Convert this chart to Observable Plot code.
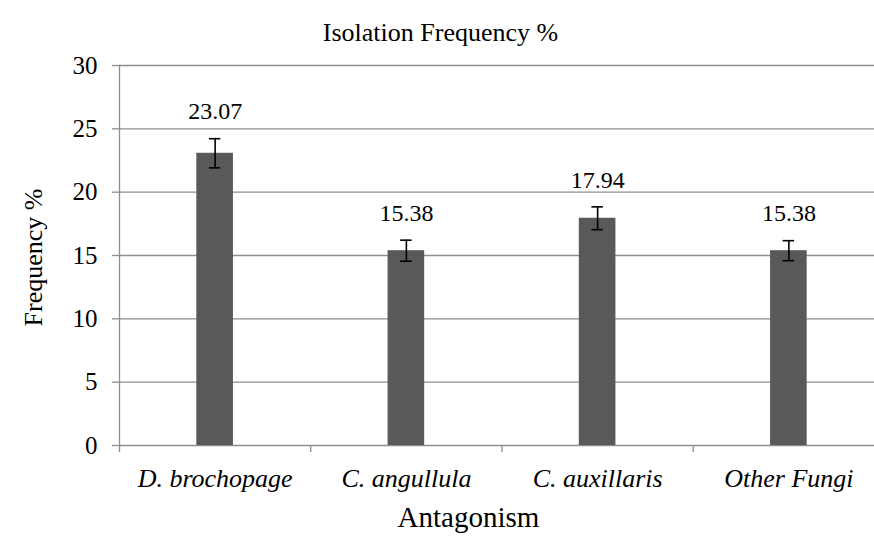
<!DOCTYPE html>
<html>
<head>
<meta charset="utf-8">
<script src="https://cdn.jsdelivr.net/npm/d3@7"></script>
<script src="https://cdn.jsdelivr.net/npm/@observablehq/plot@0.6"></script>
<style>
  html, body { margin: 0; padding: 0; background: #fff; }
  svg { display: block; }
</style>
</head>
<body>
<div id="chart"></div>
<script>
const categories = ["D. brochopage", "C. angullula", "C. auxillaris", "Other Fungi"];
const values = [23.07, 15.38, 17.94, 15.38];
const errors = [1.15, 0.83, 0.9, 0.79];
const yTicks = [0, 5, 10, 15, 20, 25, 30];
const titleText = "Isolation Frequency %";
const xTitle = "Antagonism";
const yTitle = "Frequency %";

const data = categories.map((c, i) => ({
  cat: c, i, pos: i + 0.5, value: values[i], err: errors[i],
  lo: values[i] - errors[i], hi: values[i] + errors[i]
}));
const barHalf = 0.0957;
const capHalf = 0.03;
const grid = "#8e8e8e";
const font = "Liberation Serif";

const chart = Plot.plot({
  width: 874,
  height: 546,
  marginLeft: 119,
  marginRight: -10,
  marginTop: 65,
  marginBottom: 101,
  style: { background: "#fff", overflow: "hidden" },
  x: { domain: [0, categories.length] },
  y: { domain: [0, 30] },
  marks: [
    Plot.ruleY(yTicks, { stroke: grid, strokeWidth: 1.3 }),
    Plot.frame({ anchor: "left", stroke: grid, strokeWidth: 1.3 }),
    Plot.axisY({ ticks: yTicks, tickSize: 7, tickPadding: 15, fontSize: 25, fontFamily: font, stroke: grid, strokeWidth: 1.3, fill: "#000", label: null }),
    Plot.axisX({ ticks: d3.range(categories.length + 1), tickSize: 7, tickFormat: () => "", stroke: grid, strokeWidth: 1.3, label: null }),
    Plot.axisX({ ticks: data.map(d => d.pos), tickSize: 0, tickPadding: 23.5, tickFormat: (p) => categories[Math.round(p - 0.5)], fontSize: 26, fontFamily: font, fontStyle: "italic", fill: "#000", label: null }),
    Plot.rectY(data, { x1: d => d.pos - barHalf, x2: d => d.pos + barHalf, y: "value", fill: "#595959" }),
    Plot.ruleX(data, { x: "pos", y1: "lo", y2: "hi", stroke: "#000", strokeWidth: 1.6 }),
    Plot.ruleY(data, { y: "lo", x1: d => d.pos - capHalf, x2: d => d.pos + capHalf, stroke: "#000", strokeWidth: 1.6 }),
    Plot.ruleY(data, { y: "hi", x1: d => d.pos - capHalf, x2: d => d.pos + capHalf, stroke: "#000", strokeWidth: 1.6 }),
    Plot.text(data, { x: "pos", y: "hi", text: d => d.value.toFixed(2), dy: -27, fontSize: 24, fontFamily: font, fill: "#000" }),
    Plot.text([titleText], { frameAnchor: "top-left", textAnchor: "middle", dx: 321, dy: -43, fontSize: 26, fontFamily: font, fill: "#000" }),
    Plot.text([xTitle], { frameAnchor: "bottom-left", textAnchor: "middle", dx: 349, dy: 81, fontSize: 29, fontFamily: font, fill: "#000" }),
    Plot.text([yTitle], { frameAnchor: "top-left", textAnchor: "middle", rotate: -90, dx: -96, dy: 192, fontSize: 26, fontFamily: font, fill: "#000" })
  ]
});
document.getElementById("chart").appendChild(chart);
</script>
</body>
</html>
